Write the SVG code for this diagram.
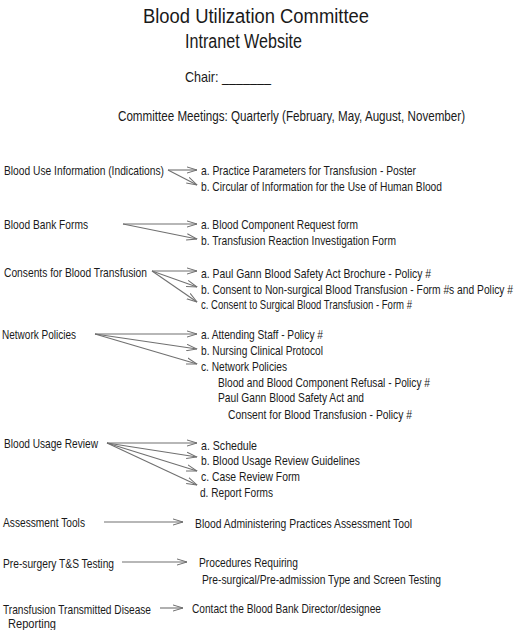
<svg xmlns="http://www.w3.org/2000/svg" width="520" height="630" viewBox="0 0 520 630">
<defs>
<marker id="ah" viewBox="0 0 11 8" refX="10.5" refY="4" markerWidth="11" markerHeight="8" markerUnits="userSpaceOnUse" orient="auto">
<path d="M0,0.8 L10.5,4 L0,7.2" fill="none" stroke="#707070" stroke-width="1"/>
</marker>
<style>
text{font-family:"Liberation Sans",Arial,sans-serif;fill:#1a1a1a;}
.t{font-size:20px;}
.s{font-size:15px;}
.b{font-size:13.5px;}
.c line{stroke:#707070;stroke-width:1.1;marker-end:url(#ah);}
</style>
</defs>
<rect width="520" height="630" fill="#fff"/>
<g id="header">
<text class="t" x="143" y="23" textLength="226" lengthAdjust="spacingAndGlyphs">Blood Utilization Committee</text>
<text class="t" x="185" y="48" textLength="117" lengthAdjust="spacingAndGlyphs">Intranet Website</text>
<text class="s" x="185" y="82" textLength="86" lengthAdjust="spacingAndGlyphs">Chair: _______</text>
<text class="s" transform="translate(118,121) scale(0.78,1)" x="0" y="0" textLength="444.9" lengthAdjust="spacingAndGlyphs">Committee Meetings: Quarterly (February, May, August, November)</text>
</g>
<g id="n-blood-use">
<text class="b" x="4" y="175" textLength="160" lengthAdjust="spacingAndGlyphs">Blood Use Information (Indications)</text>
</g>
<g id="n-blood-use-items">
<text class="b" x="201" y="175" textLength="215" lengthAdjust="spacingAndGlyphs">a. Practice Parameters for Transfusion - Poster</text>
<text class="b" x="201" y="190.5" textLength="241" lengthAdjust="spacingAndGlyphs">b. Circular of Information for the Use of Human Blood</text>
</g>
<g id="n-bank-forms">
<text class="b" x="4" y="228.5" textLength="84" lengthAdjust="spacingAndGlyphs">Blood Bank Forms</text>
</g>
<g id="n-bank-forms-items">
<text class="b" x="201" y="229" textLength="157" lengthAdjust="spacingAndGlyphs">a. Blood Component Request form</text>
<text class="b" x="201" y="244.5" textLength="195" lengthAdjust="spacingAndGlyphs">b. Transfusion Reaction Investigation Form</text>
</g>
<g id="n-consents">
<text class="b" x="4" y="276.5" textLength="143" lengthAdjust="spacingAndGlyphs">Consents for Blood Transfusion</text>
</g>
<g id="n-consents-items">
<text class="b" x="201" y="278" textLength="230" lengthAdjust="spacingAndGlyphs">a.  Paul Gann Blood Safety Act Brochure - Policy #</text>
<text class="b" transform="translate(201,293.5) scale(0.75,1)" x="0" y="0" textLength="416" lengthAdjust="spacingAndGlyphs">b. Consent to Non-surgical Blood Transfusion - Form #s and Policy #</text>
<text class="b" x="201" y="308.5" textLength="211" lengthAdjust="spacingAndGlyphs">c. Consent to Surgical Blood Transfusion - Form #</text>
</g>
<g id="n-network">
<text class="b" x="2" y="339" textLength="74" lengthAdjust="spacingAndGlyphs">Network Policies</text>
</g>
<g id="n-network-items">
<text class="b" x="201" y="339" textLength="122" lengthAdjust="spacingAndGlyphs">a. Attending Staff - Policy #</text>
<text class="b" x="201" y="355" textLength="122" lengthAdjust="spacingAndGlyphs">b. Nursing Clinical Protocol</text>
<text class="b" x="201" y="370.5" textLength="86" lengthAdjust="spacingAndGlyphs">c. Network Policies</text>
<text class="b" x="218" y="386.5" textLength="212" lengthAdjust="spacingAndGlyphs">Blood and Blood Component Refusal - Policy #</text>
<text class="b" x="218" y="402" textLength="146" lengthAdjust="spacingAndGlyphs">Paul Gann Blood Safety Act and</text>
<text class="b" x="228" y="418.5" textLength="184" lengthAdjust="spacingAndGlyphs">Consent for Blood Transfusion - Policy #</text>
</g>
<g id="n-usage">
<text class="b" x="4" y="448" textLength="94" lengthAdjust="spacingAndGlyphs">Blood Usage Review</text>
</g>
<g id="n-usage-items">
<text class="b" x="201" y="449.5" textLength="56" lengthAdjust="spacingAndGlyphs">a.  Schedule</text>
<text class="b" x="201" y="465" textLength="159" lengthAdjust="spacingAndGlyphs">b.  Blood Usage Review Guidelines</text>
<text class="b" x="201" y="480.5" textLength="99" lengthAdjust="spacingAndGlyphs">c.  Case Review Form</text>
<text class="b" x="200" y="496.5" textLength="73" lengthAdjust="spacingAndGlyphs">d. Report Forms</text>
</g>
<g id="n-assessment">
<text class="b" x="3" y="526.5" textLength="82" lengthAdjust="spacingAndGlyphs">Assessment Tools</text>
</g>
<g id="n-assessment-item">
<text class="b" x="195" y="527.5" textLength="217" lengthAdjust="spacingAndGlyphs">Blood Administering Practices Assessment Tool</text>
</g>
<g id="n-presurgery">
<text class="b" x="3" y="567.5" textLength="111" lengthAdjust="spacingAndGlyphs">Pre-surgery T&amp;S Testing</text>
</g>
<g id="n-presurgery-item">
<text class="b" x="199" y="566.5" textLength="99" lengthAdjust="spacingAndGlyphs">Procedures Requiring</text>
<text class="b" x="202" y="583.5" textLength="239" lengthAdjust="spacingAndGlyphs">Pre-surgical/Pre-admission Type and Screen Testing</text>
</g>
<g id="n-ttd">
<text class="b" x="3" y="613.5" textLength="148" lengthAdjust="spacingAndGlyphs">Transfusion Transmitted Disease</text>
<text class="b" x="8" y="628" textLength="48" lengthAdjust="spacingAndGlyphs">Reporting</text>
</g>
<g id="n-ttd-item">
<text class="b" x="192" y="612.5" textLength="189" lengthAdjust="spacingAndGlyphs">Contact the Blood Bank Director/designee</text>
</g>
<g id="connectors" class="c">
<line x1="168" y1="170" x2="197" y2="170"/>
<line x1="168" y1="170" x2="197" y2="185"/>
<line x1="123" y1="224" x2="197" y2="224"/>
<line x1="123" y1="224" x2="197" y2="239"/>
<line x1="152" y1="271" x2="197" y2="271"/>
<line x1="152" y1="271" x2="197" y2="287"/>
<line x1="152" y1="271" x2="197" y2="302"/>
<line x1="95" y1="334" x2="197" y2="334"/>
<line x1="95" y1="334" x2="197" y2="349"/>
<line x1="95" y1="334" x2="197" y2="364"/>
<line x1="107" y1="443" x2="197" y2="443"/>
<line x1="107" y1="443" x2="197" y2="457"/>
<line x1="107" y1="443" x2="197" y2="471"/>
<line x1="107" y1="443" x2="197" y2="485"/>
<line x1="104" y1="522" x2="183" y2="522"/>
<line x1="122" y1="562" x2="187" y2="562"/>
<line x1="160" y1="608" x2="183" y2="608"/>
</g>
</svg>
